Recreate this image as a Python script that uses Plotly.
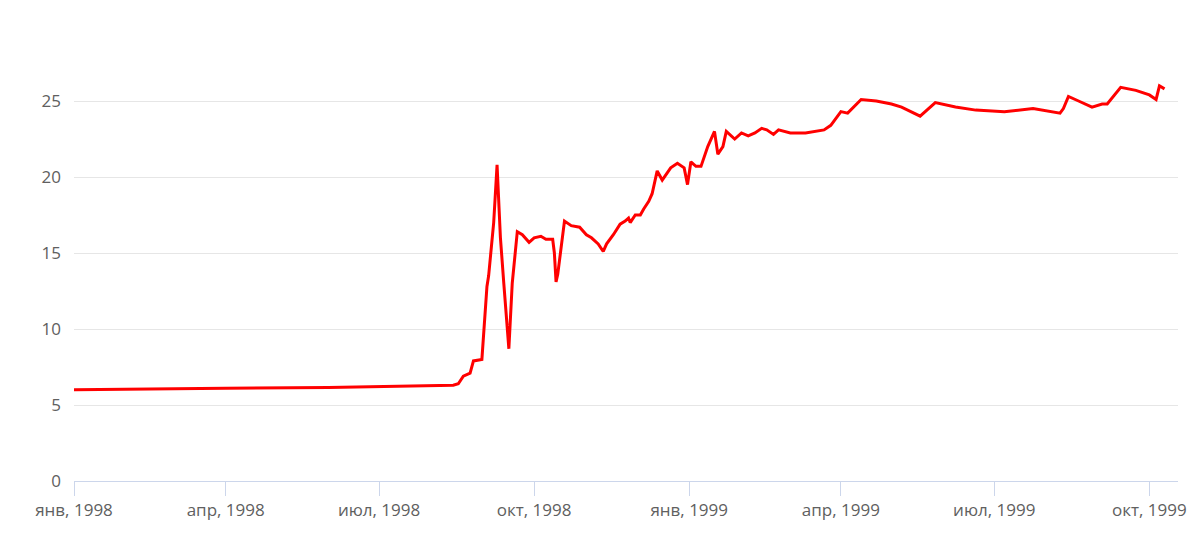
import plotly.graph_objects as go

dates = ["1998-01-01", "1998-02-01", "1998-04-01", "1998-06-01", "1998-08-10", "1998-08-14",
         "1998-08-17", "1998-08-20", "1998-08-24", "1998-08-26", "1998-08-31", "1998-09-03",
         "1998-09-04", "1998-09-07", "1998-09-09", "1998-09-11", "1998-09-13", "1998-09-15",
         "1998-09-16", "1998-09-18", "1998-09-21", "1998-09-24", "1998-09-28", "1998-10-01",
         "1998-10-05", "1998-10-08", "1998-10-12", "1998-10-13", "1998-10-14", "1998-10-15",
         "1998-10-19", "1998-10-23", "1998-10-28", "1998-11-01", "1998-11-04", "1998-11-08",
         "1998-11-11", "1998-11-13", "1998-11-17", "1998-11-21", "1998-11-24", "1998-11-26",
         "1998-11-27", "1998-11-30", "1998-12-03", "1998-12-05", "1998-12-08", "1998-12-10",
         "1998-12-13", "1998-12-16", "1998-12-21", "1998-12-25", "1998-12-29", "1998-12-31",
         "1999-01-02", "1999-01-05", "1999-01-08", "1999-01-12", "1999-01-16", "1999-01-18",
         "1999-01-21", "1999-01-23", "1999-01-28", "1999-02-01", "1999-02-05", "1999-02-09",
         "1999-02-13", "1999-02-16", "1999-02-20", "1999-02-23", "1999-03-02", "1999-03-11",
         "1999-03-17", "1999-03-22", "1999-03-26", "1999-04-01", "1999-04-05", "1999-04-13",
         "1999-04-22", "1999-05-01", "1999-05-07", "1999-05-14", "1999-05-18", "1999-05-27",
         "1999-06-08", "1999-06-20", "1999-07-02", "1999-07-07", "1999-07-24", "1999-08-05",
         "1999-08-09", "1999-08-11", "1999-08-14", "1999-08-20", "1999-08-24", "1999-08-28",
         "1999-09-03", "1999-09-06", "1999-09-14", "1999-09-23", "1999-10-01", "1999-10-05",
         "1999-10-07", "1999-10-10"]
usd_rub = [6.0, 6.05, 6.1, 6.15, 6.28, 6.3,
           6.4, 6.9, 7.1, 7.9, 8.0, 12.8,
           13.5, 17.0, 20.8, 16.0, 13.0, 10.5,
           8.7, 13.0, 16.4, 16.2, 15.7, 16.0,
           16.1, 15.9, 15.9, 15.0, 13.1, 13.6,
           17.1, 16.8, 16.7, 16.2, 16.0, 15.6,
           15.1, 15.6, 16.2, 16.9, 17.1, 17.3,
           17.0, 17.5, 17.5, 17.9, 18.4, 18.9,
           20.4, 19.8, 20.6, 20.9, 20.6, 19.5,
           21.0, 20.7, 20.7, 22.0, 23.0, 21.5,
           22.0, 23.0, 22.5, 22.9, 22.7, 22.9,
           23.2, 23.1, 22.8, 23.1, 22.9, 22.9,
           23.0, 23.1, 23.4, 24.3, 24.2, 25.1,
           25.0, 24.8, 24.6, 24.2, 24.0, 24.9,
           24.6, 24.4, 24.3, 24.3, 24.5, 24.3,
           24.2, 24.5, 25.3, 25.0, 24.8, 24.6,
           24.8, 24.8, 25.9, 25.7, 25.4, 25.1,
           26.0, 25.8]

tick_dates = ["1998-01-01", "1998-04-01", "1998-07-01", "1998-10-01",
              "1999-01-01", "1999-04-01", "1999-07-01", "1999-10-01"]
tick_labels = ["янв, 1998", "апр, 1998", "июл, 1998", "окт, 1998",
               "янв, 1999", "апр, 1999", "июл, 1999", "окт, 1999"]

fig = go.Figure(go.Scatter(x=dates, y=usd_rub, mode="lines",
                           line=dict(color="#ff0000", width=3)))

fig.update_layout(
    width=1200, height=555,
    plot_bgcolor="white", paper_bgcolor="white",
    margin=dict(l=66, r=30, t=17, b=82),
    font=dict(family="Open Sans", size=17, color="#606060"),
    showlegend=False,
    xaxis=dict(range=["1998-01-01", "1999-10-18"], tickvals=tick_dates, ticktext=tick_labels,
               showgrid=False, showline=True, linecolor="#ccd6eb", ticks="outside",
               tickcolor="#ccd6eb", ticklen=14, zeroline=False, automargin=False),
    yaxis=dict(range=[0, 30], tickvals=[0, 5, 10, 15, 20, 25, 30],
               ticktext=["0", "5", "10", "15", "20", "25", ""],
               gridcolor="#e6e6e6", zeroline=False, ticklabelstandoff=12, automargin=False),
)

fig.write_html("out.html")
